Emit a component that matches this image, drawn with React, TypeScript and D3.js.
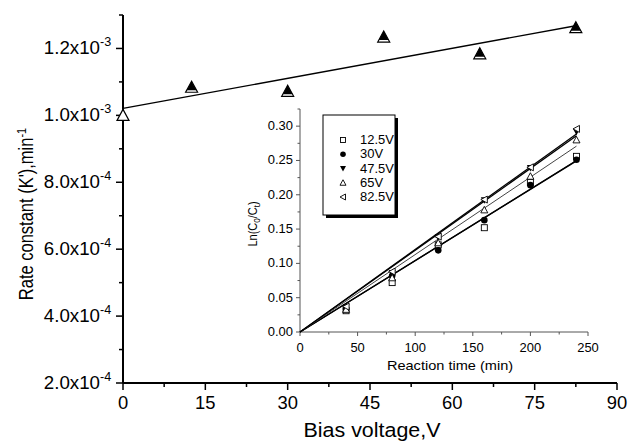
import React from "react";
import * as d3 from "d3";

// main plot: rate constant vs bias voltage
const biasVoltage = [0, 12.5, 30, 47.5, 65, 82.5];
const rateConstant = [1.0e-3, 1.084e-3, 1.072e-3, 1.234e-3, 1.184e-3, 1.262e-3];
const mainYTicks = [2e-4, 4e-4, 6e-4, 8e-4, 1.0e-3, 1.2e-3];
const mainYLabels = ["2.0x10", "4.0x10", "6.0x10", "8.0x10", "1.0x10", "1.2x10"];
const mainYExp = ["-4", "-4", "-4", "-4", "-3", "-3"];
const mainXTicks = [0, 15, 30, 45, 60, 75, 90];

// inset: ln(C0/Ct) vs reaction time
const reactionTime = [40, 80, 120, 160, 200, 240];
const seriesNames = ["12.5V", "30V", "47.5V", "65V", "82.5V"];
const s125 = [0.031, 0.072, 0.127, 0.152, 0.218, 0.256];
const s30 = [0.034, 0.082, 0.119, 0.163, 0.214, 0.251];
const s475 = [0.036, 0.086, 0.138, 0.192, 0.239, 0.292];
const s65 = [0.033, 0.079, 0.13, 0.178, 0.227, 0.28];
const s825 = [0.037, 0.088, 0.139, 0.193, 0.24, 0.296];
const insetSeries = [s125, s30, s475, s65, s825];
const insetYTicks = [0, 0.05, 0.1, 0.15, 0.2, 0.25, 0.3];
const insetXTicks = [0, 50, 100, 150, 200, 250];

const font = "'Liberation Sans', Arial, sans-serif";

function linFit(xs: number[], ys: number[]) {
  const mx = d3.mean(xs)!;
  const my = d3.mean(ys)!;
  const sxy = d3.sum(xs, (x, i) => (x - mx) * (ys[i] - my));
  const sxx = d3.sum(xs, (x) => (x - mx) * (x - mx));
  const b = sxy / sxx;
  return { a: my - b * mx, b };
}

// the kinetic fits go through the origin
function originFit(xs: number[], ys: number[]) {
  return d3.sum(xs, (x, i) => x * ys[i]) / d3.sum(xs, (x) => x * x);
}

function Marker({ kind, x, y, s = 3 }: { kind: number; x: number; y: number; s?: number }) {
  const st = { stroke: "#000", strokeWidth: 0.9 };
  if (kind === 0)
    return <rect x={x - s} y={y - s} width={2 * s} height={2 * s} fill="#fff" {...st} />;
  if (kind === 1) return <circle cx={x} cy={y} r={s + 0.3} fill="#000" />;
  if (kind === 2)
    return <path d={`M${x - s - 0.5},${y - s}L${x + s + 0.5},${y - s}L${x},${y + s + 0.5}Z`} fill="#000" />;
  if (kind === 3)
    return <path d={`M${x - s - 0.5},${y + s}L${x + s + 0.5},${y + s}L${x},${y - s - 0.5}Z`} fill="#fff" {...st} />;
  return <path d={`M${x + s},${y - s - 0.5}L${x + s},${y + s + 0.5}L${x - s - 0.5},${y}Z`} fill="#fff" {...st} />;
}

// text in the source is a little wider than tall
const wide = (x: number, y: number, k = 1.1) => `translate(${x},${y}) scale(${k},1)`;
const wideUp = (x: number, y: number, k = 1.15) => `translate(${x},${y}) rotate(-90) scale(1,${k})`;

export default function App() {
  const x = d3.scaleLinear().domain([0, 90]).range([123, 617]);
  const y = d3.scaleLinear().domain([2e-4, 1.3e-3]).range([383, 15]);
  const ix = d3.scaleLinear().domain([0, 250]).range([300, 588]);
  const iy = d3.scaleLinear().domain([0, 0.325]).range([332, 109]);

  const fit = linFit(biasVoltage, rateConstant);
  const line = d3.line<number>().x((d) => x(d)).y((d) => y(fit.a + fit.b * d));

  const mainYMinor = d3.range(3e-4, 1.31e-3, 2e-4);
  const mainXMinor = d3.range(7.5, 90, 15);
  const insetYMinor = d3.range(0.025, 0.33, 0.05);
  const insetXMinor = d3.range(25, 250, 50);

  const legendRows = d3.scaleLinear().domain([0, 4]).range([140, 197]);

  return (
    <svg width={630} height={442} style={{ position: "absolute", left: 0, top: 0, background: "#fff" }} fontFamily={font}>
      {/* main axes */}
      <line x1={x(0)} x2={x(90)} y1={383} y2={383} stroke="#000" strokeWidth={2} />
      <line x1={123} x2={123} y1={y(1.3e-3)} y2={383} stroke="#000" strokeWidth={2} />
      {mainXTicks.map((t) => (
        <g key={t}>
          <line x1={x(t)} x2={x(t)} y1={383} y2={390} stroke="#000" strokeWidth={1.5} />
          <text transform={wide(x(t), 409, 1.05)} fontSize={17.5} textAnchor="middle">{t}</text>
        </g>
      ))}
      {mainXMinor.map((t) => (
        <line key={t} x1={x(t)} x2={x(t)} y1={383} y2={387} stroke="#000" strokeWidth={1.5} />
      ))}
      {mainYTicks.map((t, i) => (
        <g key={t}>
          <line x1={116} x2={123} y1={y(t)} y2={y(t)} stroke="#000" strokeWidth={1.5} />
          <text transform={wide(100, y(t) + 6, 1.07)} fontSize={17.5} textAnchor="end">{mainYLabels[i]}</text>
          <text transform={wide(100, y(t) - 2, 1.05)} fontSize={12}>{mainYExp[i]}</text>
        </g>
      ))}
      {mainYMinor.map((t) => (
        <line key={t} x1={119} x2={123} y1={y(t)} y2={y(t)} stroke="#000" strokeWidth={1.5} />
      ))}
      <text transform={wide(372, 437, 1.1)} fontSize={19.5} textAnchor="middle">Bias voltage,V</text>
      <text transform={wideUp(33, 214, 1.22)} fontSize={16.5} textAnchor="middle">
        Rate constant (K'),min<tspan dy={-6} fontSize={11}>-1</tspan>
      </text>

      {/* main fit and points */}
      <path d={line([0, 82.5]) ?? ""} fill="none" stroke="#000" strokeWidth={1.4} />
      <defs>
        <clipPath id="upper">
          <rect x={-10} y={-10} width={20} height={13} />
        </clipPath>
      </defs>
      {biasVoltage.map((v, i) => {
        const tri = "M-6,5L6,5L0,-6Z";
        return (
          <g key={v} transform={`translate(${x(v)},${y(rateConstant[i])})`}>
            <path d={tri} fill="#fff" stroke="#000" strokeWidth={1.2} />
            {i > 0 && <path d={tri} fill="#000" clipPath="url(#upper)" />}
          </g>
        );
      })}

      {/* inset axes */}
      <line x1={ix(0)} x2={ix(250)} y1={332} y2={332} stroke="#555" strokeWidth={1} />
      <line x1={300} x2={300} y1={109} y2={332} stroke="#555" strokeWidth={1} />
      {insetXTicks.map((t) => (
        <g key={t}>
          <line x1={ix(t)} x2={ix(t)} y1={332} y2={336} stroke="#555" />
          <text transform={wide(ix(t), 352, 1.08)} fontSize={12} textAnchor="middle">{t}</text>
        </g>
      ))}
      {insetXMinor.map((t) => (
        <line key={t} x1={ix(t)} x2={ix(t)} y1={332} y2={334.5} stroke="#555" />
      ))}
      {insetYTicks.map((t) => (
        <g key={t}>
          <line x1={296} x2={300} y1={iy(t)} y2={iy(t)} stroke="#555" />
          <text transform={wide(293, iy(t) + 4, 1.08)} fontSize={12} textAnchor="end">{t.toFixed(2)}</text>
        </g>
      ))}
      {insetYMinor.map((t) => (
        <line key={t} x1={297.5} x2={300} y1={iy(t)} y2={iy(t)} stroke="#555" />
      ))}
      <text transform={wide(450, 370, 1.12)} fontSize={13} textAnchor="middle">Reaction time (min)</text>
      <text transform={wideUp(257, 224, 1.15)} fontSize={11} textAnchor="middle">
        Ln(C<tspan dy={3} fontSize={8}>0</tspan><tspan dy={-3}>/C</tspan><tspan dy={3} fontSize={8}>t</tspan><tspan dy={-3}>)</tspan>
      </text>

      {/* inset fits and points */}
      {insetSeries.map((s, k) => {
        const b = originFit(reactionTime, s);
        return (
          <line key={k} x1={ix(0)} y1={iy(0)} x2={ix(240)} y2={iy(240 * b)}
            stroke={k === 3 ? "#444" : "#000"} strokeWidth={k === 3 ? 1 : 1.3} />
        );
      })}
      {insetSeries.map((s, k) =>
        s.map((v, i) => <Marker key={`${k}-${i}`} kind={k} x={ix(reactionTime[i])} y={iy(v)} />)
      )}

      {/* legend */}
      <rect x={326} y={118} width={72} height={100} fill="#000" />
      <rect x={323} y={115} width={72} height={100} fill="#fff" stroke="#000" strokeWidth={1} />
      {seriesNames.map((n, k) => (
        <g key={n}>
          <Marker kind={k} x={343} y={legendRows(k)} s={2.5} />
          <text transform={wide(360, legendRows(k) + 4, 1.08)} fontSize={12}>{n}</text>
        </g>
      ))}
    </svg>
  );
}
